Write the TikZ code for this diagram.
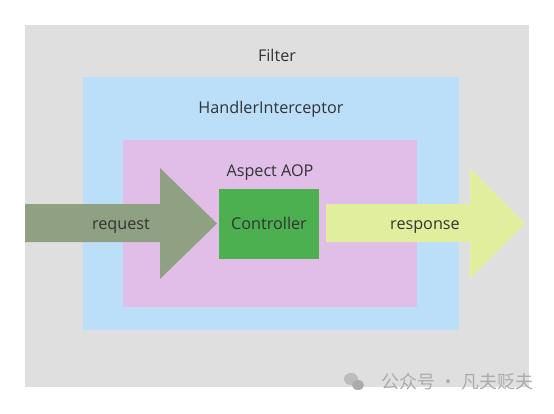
\documentclass[tikz,border=0pt]{standalone}
\usepackage{fontspec}
\setmainfont{Open Sans}
\newfontfamily\cjk{Noto Sans CJK SC}
\usepackage{tikz}
\usetikzlibrary{positioning}

\definecolor{filtergray}{HTML}{DFDFDF}
\definecolor{interblue}{HTML}{BBDEF9}
\definecolor{aoppink}{HTML}{E1BEE7}
\definecolor{ctrlgreen}{HTML}{4CAF50}
\definecolor{reqcol}{HTML}{90A082}
\definecolor{respcol}{HTML}{E0EE9E}
\definecolor{txt}{HTML}{333333}
\definecolor{wmark}{HTML}{ABABAB}

\begin{document}
\begin{tikzpicture}[x=1pt,y=-1pt,
    lbl/.style={font=\fontsize{16.2}{19}\selectfont,text=txt,inner sep=0pt,anchor=base},
    ctrlbox/.style={fill=ctrlgreen,minimum width=100pt,minimum height=70pt}]
    \useasboundingbox (0,0) rectangle (554,413);

    % nested layers
    \fill[filtergray] (25,25) rectangle (529,387);
    \fill[interblue] (83,77) rectangle (459,330);
    \fill[aoppink] (123,140) rectangle (417,307);

    \node[lbl] (filter) at (277,61) {Filter};
    \node[lbl] (inter) at (271,113) {HandlerInterceptor};
    \node[lbl] (aop) at (270,176) {Aspect AOP};

    % request / response arrows
    \fill[reqcol] (25,204) -- (160,204) -- (160,168) -- (217,223.5)
        -- (160,279) -- (160,242) -- (25,242) -- cycle;
    \fill[respcol] (326,204) -- (470,204) -- (470,168) -- (525,223.5)
        -- (470,279) -- (470,242) -- (326,242) -- cycle;

    \node[ctrlbox] (ctrl) at (269,224) {};
    \node[lbl] (ctrltext) at (269,229.5) {Controller};
    \node[lbl] (req) at (121,229.5) {request};
    \node[lbl] (resp) at (425,229.5) {response};

    % watermark
    \fill[wmark!80] (351,379) ellipse (7pt and 6pt);
    \fill[wmark] (358,385) ellipse (6pt and 5pt);
    \node[font=\cjk\fontsize{18}{21}\selectfont,text=wmark,inner sep=0pt,anchor=west]
        (mark) at (381,382) {公众号 · 凡夫贬夫};
\end{tikzpicture}
\end{document}
